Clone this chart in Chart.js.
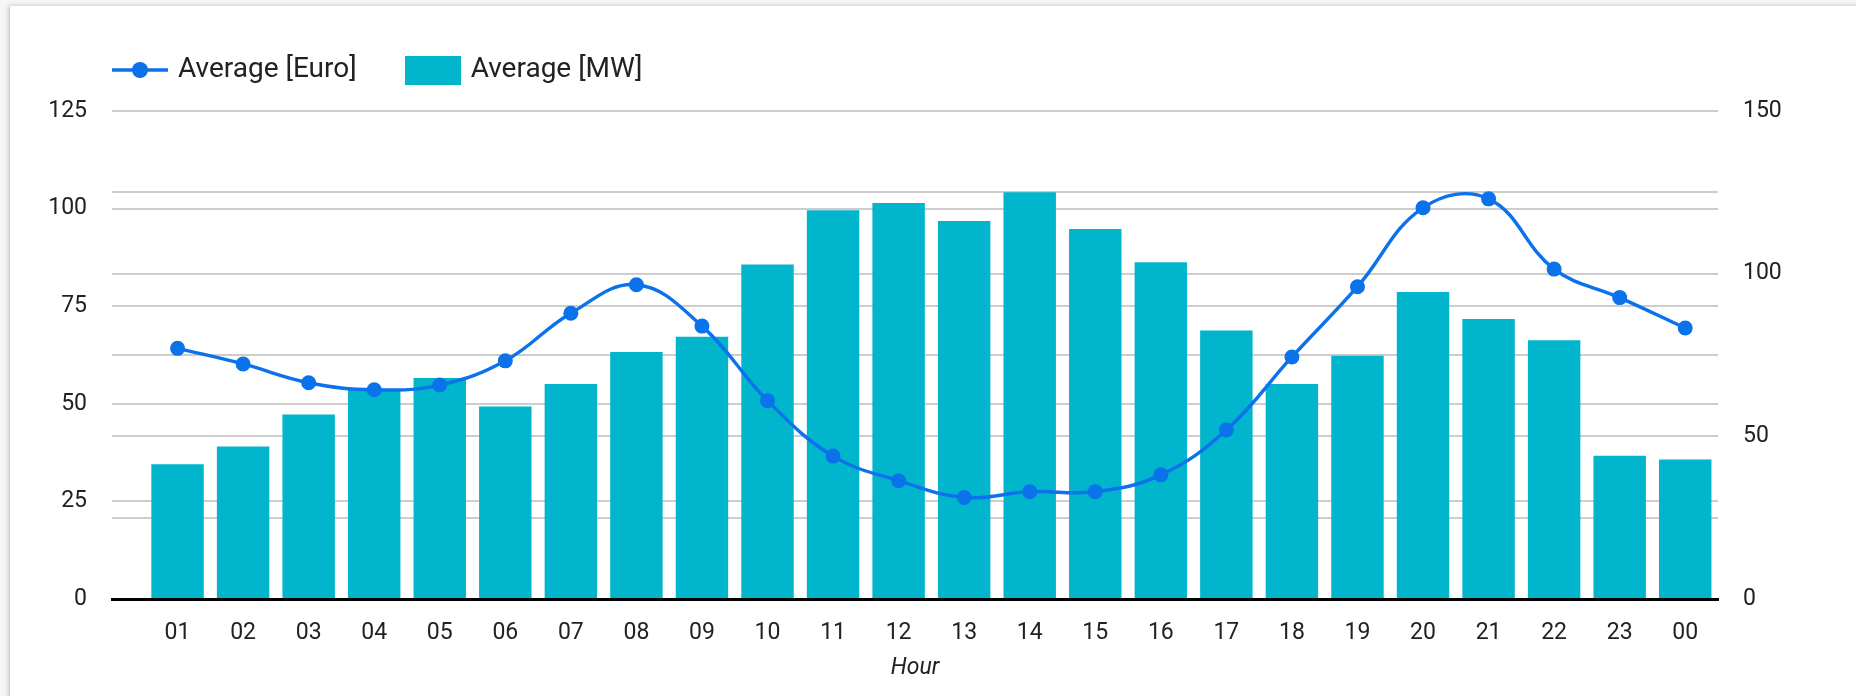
<!DOCTYPE html>
<html>
<head>
<meta charset="utf-8">
<script src="https://cdn.jsdelivr.net/npm/chart.js@4/dist/chart.umd.min.js"></script>
<style>
  html, body { margin: 0; padding: 0; width: 1856px; height: 696px; overflow: hidden; background: #f6f6f6; }
  #card { position: absolute; left: 9px; top: 6px; width: 1900px; height: 760px; background: #fff;
          box-shadow: 0 0 5px rgba(0,0,0,0.22); border-left: 1px solid #cfcfcf; }
  #wrap { position: absolute; left: 0; top: 0; width: 1856px; height: 696px; }
</style>
</head>
<body>
<div id="card"></div>
<div id="wrap"><canvas id="c" width="1856" height="696"></canvas></div>
<script>
// ---- data ----
const hours = ['01','02','03','04','05','06','07','08','09','10','11','12',
               '13','14','15','16','17','18','19','20','21','22','23','00'];
const euroValues = [64.2, 60.2, 55.4, 53.6, 54.8, 61.0, 73.2, 80.5, 69.9, 50.8, 36.6, 30.3,
                    26.0, 27.5, 27.5, 31.8, 43.3, 62.0, 80.0, 100.2, 102.5, 84.5, 77.2, 69.4];
const mwValues = [41.4, 46.9, 56.7, 64.3, 67.9, 59.2, 66.1, 75.9, 80.6, 102.8, 119.5, 121.7,
                  116.2, 125.0, 113.7, 103.5, 82.5, 66.1, 74.8, 94.4, 86.1, 79.5, 44.0, 42.9];
const leftTickValues = [0, 25, 50, 75, 100, 125];
const rightTickValues = [0, 25, 50, 75, 100, 125, 150];
const rightLabelValues = [0, 50, 100, 150];
const seriesNames = ['Average [Euro]', 'Average [MW]'];
const xTitle = 'Hour';

const LINE_COLOR = '#0b72eb';
const BAR_COLOR = '#00b5cc';
const GRID_COLOR = '#cdcdcd';
const TEXT_COLOR = '#222222';
const FONT = 'Roboto';

// legend icons
function makeLineIcon() {
  const c = document.createElement('canvas');
  c.width = 56; c.height = 30;
  const g = c.getContext('2d');
  g.strokeStyle = LINE_COLOR; g.lineWidth = 3.4;
  g.beginPath(); g.moveTo(0, 15); g.lineTo(56, 15); g.stroke();
  g.fillStyle = LINE_COLOR;
  g.beginPath(); g.arc(28, 15, 8, 0, Math.PI * 2); g.fill();
  return c;
}
function makeBoxIcon() {
  const c = document.createElement('canvas');
  c.width = 56; c.height = 29;
  const g = c.getContext('2d');
  g.fillStyle = BAR_COLOR; g.fillRect(0, 0, 56, 29);
  return c;
}
const lineIcon = makeLineIcon();
const boxIcon = makeBoxIcon();

const legendSpacer = {
  id: 'legendSpacer',
  afterInit(chart) {
    const lg = chart.legend;
    if (!lg) return;
    const orig = lg.fit.bind(lg);
    lg.fit = function () { orig(); this.height += 17; };
  },
  afterLayout(chart) {
    if (chart.legend) chart.legend.left = 64;
  }
};

new Chart(document.getElementById('c'), {
  type: 'bar',
  data: {
    datasets: [
      {
        type: 'line',
        label: seriesNames[0],
        data: euroValues.map((v, i) => ({ x: i + 1, y: v })),
        yAxisID: 'y',
        borderColor: LINE_COLOR,
        backgroundColor: LINE_COLOR,
        borderWidth: 3.4,
        pointRadius: 7.5,
        pointHoverRadius: 7.5,
        pointBackgroundColor: LINE_COLOR,
        pointBorderWidth: 0,
        tension: 0.4,
        fill: false,
        order: 0
      },
      {
        type: 'bar',
        label: seriesNames[1],
        data: mwValues.map((v, i) => ({ x: i + 1, y: v })),
        yAxisID: 'y1',
        backgroundColor: BAR_COLOR,
        borderWidth: 0,
        barPercentage: 0.8,
        categoryPercentage: 1.0,
        order: 1
      }
    ]
  },
  options: {
    responsive: false,
    animation: false,
    devicePixelRatio: 1,
    layout: { padding: { left: 0, right: 0, top: 4, bottom: 0 } },
    plugins: {
      tooltip: { enabled: false },
      legend: {
        display: true,
        position: 'top',
        align: 'start',
        labels: {
          usePointStyle: true,
          pointStyleWidth: 48,
          padding: 52,
          color: TEXT_COLOR,
          font: { family: FONT, size: 28 },
          generateLabels() {
            return [
              { text: seriesNames[0], pointStyle: lineIcon, fillStyle: LINE_COLOR, strokeStyle: LINE_COLOR, lineWidth: 0, datasetIndex: 0, hidden: false, fontColor: TEXT_COLOR },
              { text: seriesNames[1], pointStyle: boxIcon, fillStyle: BAR_COLOR, strokeStyle: BAR_COLOR, lineWidth: 0, datasetIndex: 1, hidden: false, fontColor: TEXT_COLOR }
            ];
          }
        }
      }
    },
    scales: {
      x: {
        type: 'linear',
        offset: false,
        min: 0,
        max: 24.5,
        afterBuildTicks(s) { s.ticks = hours.map((_, i) => ({ value: i + 1 })); },
        afterFit(s) { s.height = 97; },
        ticks: {
          autoSkip: false, maxRotation: 0, minRotation: 0,
          padding: 20,
          color: TEXT_COLOR,
          font: { family: FONT, size: 23 },
          callback: (v) => hours[Math.round(v) - 1] ?? ''
        },
        grid: { display: false, drawTicks: false },
        border: { display: true, color: '#000', width: 3 },
        title: {
          display: true, text: xTitle, color: TEXT_COLOR,
          font: { family: FONT, size: 23, style: 'italic' },
          padding: { top: 0, bottom: 14 }
        }
      },
      y: {
        type: 'linear',
        position: 'left',
        min: 0, max: 125,
        afterBuildTicks(s) { s.ticks = leftTickValues.map(v => ({ value: v })); },
        afterFit(s) { s.width = 112; },
        ticks: { padding: 25, color: TEXT_COLOR, font: { family: FONT, size: 23 } },
        grid: { color: GRID_COLOR, lineWidth: 2, drawTicks: false },
        border: { display: false }
      },
      y1: {
        type: 'linear',
        position: 'right',
        min: 0, max: 150,
        afterBuildTicks(s) { s.ticks = rightTickValues.map(v => ({ value: v })); },
        afterFit(s) { s.width = 138; },
        ticks: {
          padding: 25, color: TEXT_COLOR, font: { family: FONT, size: 23 },
          callback: (v) => rightLabelValues.includes(v) ? String(v) : ''
        },
        grid: { color: GRID_COLOR, lineWidth: 2, drawTicks: false },
        border: { display: false }
      }
    }
  },
  plugins: [legendSpacer]
});
</script>
</body>
</html>
